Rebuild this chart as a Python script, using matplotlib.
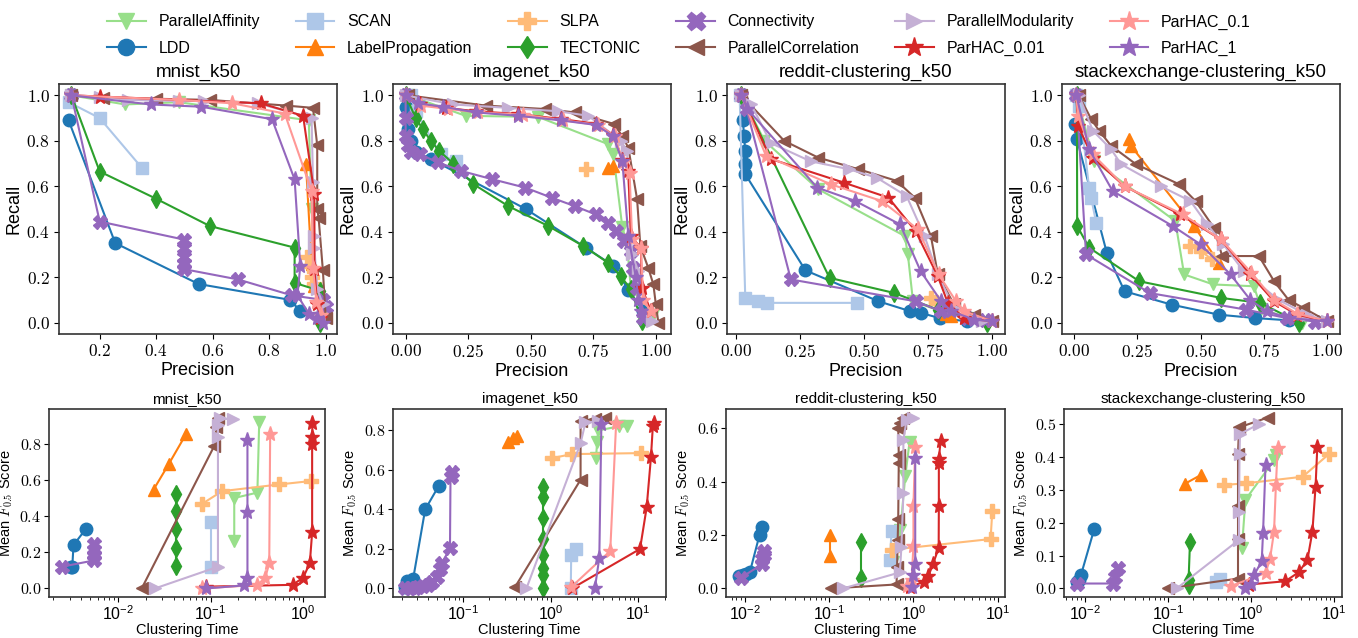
import matplotlib
matplotlib.use("Agg")
import matplotlib.pyplot as plt
from matplotlib.ticker import FuncFormatter, MultipleLocator
from matplotlib.lines import Line2D

plt.rcParams['font.family'] = ['Liberation Sans', 'DejaVu Sans']
plt.rcParams['mathtext.fontset'] = 'cm'

methods = ['ParallelAffinity', 'LDD', 'SCAN', 'LabelPropagation', 'SLPA', 'TECTONIC',
           'Connectivity', 'ParallelCorrelation', 'ParallelModularity',
           'ParHAC_0.01', 'ParHAC_0.1', 'ParHAC_1']
colors = ['#98df8a', '#1f77b4', '#aec7e8', '#ff7f0e', '#ffbb78', '#2ca02c',
          '#9467bd', '#8c564b', '#c5b0d5', '#d62728', '#ff9896', '#9467bd']
markers = ['v', 'o', 's', '^', 'P', 'd', 'X', '<', '>', '*', '*', '*']

datasets = ['mnist_k50', 'imagenet_k50', 'reddit-clustering_k50', 'stackexchange-clustering_k50']

# ---------- Precision / Recall (top row) ----------
mnist_pr = {
    'ParallelAffinity': ([0.10, 0.29, 0.48, 0.94, 0.95, 0.96, 0.98], [1.00, 0.96, 0.97, 0.89, 0.50, 0.22, 0.02]),
    'LDD': ([0.09, 0.255, 0.55, 0.875, 0.91], [0.89, 0.35, 0.17, 0.10, 0.05]),
    'SCAN': ([0.09, 0.20, 0.35], [0.97, 0.90, 0.68]),
    'LabelPropagation': ([0.93, 0.95, 0.96], [0.70, 0.26, 0.16]),
    'SLPA': ([0.935, 0.94, 0.95, 0.96], [0.29, 0.25, 0.20, 0.17]),
    'TECTONIC': ([0.10, 0.20, 0.40, 0.59, 0.89, 0.89, 0.98, 0.98], [1.00, 0.665, 0.545, 0.425, 0.33, 0.175, 0.14, 0.0]),
    'Connectivity': ([0.10, 0.20, 0.50, 0.50, 0.50, 0.50, 0.50, 0.69, 0.88, 0.99, 1.0],
                     [1.0, 0.445, 0.365, 0.33, 0.29, 0.26, 0.235, 0.19, 0.12, 0.10, 0.07]),
    'ParallelCorrelation': ([0.10, 0.21, 0.40, 0.59, 0.86, 0.955, 0.97, 0.97, 0.975, 0.99, 1.0],
                            [1.0, 0.99, 0.985, 0.98, 0.955, 0.945, 0.78, 0.50, 0.46, 0.23, 0.02]),
    'ParallelModularity': ([0.10, 0.20, 0.30, 0.48, 0.57, 0.76, 0.95, 0.955, 0.96, 0.96, 0.97, 0.99],
                           [1.0, 0.995, 0.98, 0.975, 0.975, 0.965, 0.90, 0.62, 0.38, 0.33, 0.15, 0.08]),
    'ParHAC_0.01': ([0.10, 0.20, 0.77, 0.92, 0.96, 0.96, 0.97, 0.98], [1.0, 0.995, 0.965, 0.91, 0.565, 0.235, 0.08, 0.02]),
    'ParHAC_0.1': ([0.10, 0.48, 0.67, 0.855, 0.95, 0.955, 0.967, 0.985], [1.0, 0.98, 0.965, 0.92, 0.58, 0.24, 0.09, 0.035]),
    'ParHAC_1': ([0.10, 0.38, 0.56, 0.81, 0.89, 0.91, 0.90, 0.94, 0.97, 0.99], [1.0, 0.96, 0.95, 0.895, 0.63, 0.25, 0.12, 0.04, 0.02, 0.0]),
}
imagenet_pr = {
    'ParallelAffinity': ([0.01, 0.24, 0.53, 0.81, 0.83, 0.866, 0.885, 0.90, 0.99], [1.0, 0.91, 0.905, 0.785, 0.74, 0.42, 0.344, 0.15, 0.035]),
    'LDD': ([0.0, 0.01, 0.02, 0.04, 0.10, 0.48, 0.72, 0.83, 0.89, 0.95], [0.95, 0.85, 0.80, 0.75, 0.72, 0.50, 0.33, 0.25, 0.145, 0.05]),
    'SCAN': ([0.02, 0.04, 0.14, 0.20], [1.0, 0.93, 0.74, 0.71]),
    'LabelPropagation': ([0.81, 0.83], [0.68, 0.69]),
    'SLPA': ([0.72], [0.675]),
    'TECTONIC': ([0.0, 0.04, 0.07, 0.10, 0.135, 0.19, 0.27, 0.41, 0.57, 0.71, 0.81, 0.86, 0.90, 0.945],
                 [1.0, 0.90, 0.85, 0.80, 0.755, 0.70, 0.61, 0.513, 0.425, 0.337, 0.263, 0.204, 0.146, 0.006]),
    'Connectivity': ([0.0, 0.0, 0.0, 0.01, 0.02, 0.057, 0.13, 0.22, 0.346, 0.478, 0.583, 0.675, 0.76, 0.807, 0.84, 0.872, 0.90, 0.91, 0.925, 0.95],
                     [1.0, 0.9, 0.82, 0.78, 0.75, 0.74, 0.705, 0.668, 0.631, 0.594, 0.55, 0.513, 0.476, 0.44, 0.403, 0.359, 0.315, 0.24, 0.153, 0.02]),
    'ParallelCorrelation': ([0.01, 0.32, 0.556, 0.675, 0.833, 0.866, 0.89, 0.925, 0.938, 0.97, 0.99, 1.0, 1.01],
                            [1.0, 0.955, 0.94, 0.925, 0.874, 0.82, 0.77, 0.543, 0.337, 0.24, 0.168, 0.08, 0.0]),
    'ParallelModularity': ([0.0, 0.19, 0.41, 0.61, 0.73, 0.86, 0.885, 0.905, 0.93, 0.985],
                           [1.0, 0.96, 0.945, 0.93, 0.91, 0.80, 0.755, 0.30, 0.226, 0.006]),
    'ParHAC_0.01': ([0.0, 0.057, 0.16, 0.28, 0.45, 0.62, 0.76, 0.83, 0.866, 0.89, 0.90, 0.94, 0.944, 0.98],
                    [1.0, 0.96, 0.945, 0.93, 0.918, 0.896, 0.875, 0.825, 0.714, 0.668, 0.38, 0.33, 0.153, 0.05]),
    'ParHAC_0.1': ([0.0, 0.06, 0.17, 0.29, 0.47, 0.63, 0.77, 0.835, 0.87, 0.895, 0.905, 0.94, 0.95, 0.98],
                   [1.0, 0.955, 0.94, 0.925, 0.915, 0.89, 0.87, 0.82, 0.705, 0.66, 0.37, 0.33, 0.10, 0.05]),
    'ParHAC_1': ([0.0, 0.05, 0.15, 0.28, 0.45, 0.62, 0.76, 0.83, 0.866, 0.89, 0.92, 0.93, 0.94],
                 [1.0, 0.965, 0.95, 0.925, 0.91, 0.89, 0.87, 0.82, 0.71, 0.38, 0.20, 0.10, 0.05]),
}
reddit_pr = {
    'ParallelAffinity': ([0.02, 0.11, 0.32, 0.658, 0.67, 0.69, 0.80, 0.90, 0.98], [1.0, 0.80, 0.587, 0.381, 0.30, 0.094, 0.05, 0.02, 0.0]),
    'LDD': ([0.026, 0.03, 0.035, 0.032, 0.035, 0.27, 0.555, 0.68, 0.72, 0.794, 0.90],
            [0.89, 0.82, 0.756, 0.697, 0.653, 0.23, 0.094, 0.05, 0.043, 0.02, 0.006]),
    'SCAN': ([0.013, 0.035, 0.084, 0.12, 0.47], [1.0, 0.109, 0.094, 0.087, 0.087]),
    'LabelPropagation': ([0.82, 0.84], [0.04, 0.03]),
    'SLPA': ([0.76, 0.78], [0.109, 0.09]),
    'TECTONIC': ([0.02, 0.364, 0.615, 0.787, 0.98], [1.0, 0.197, 0.131, 0.057, 0.0]),
    'Connectivity': ([0.02, 0.04, 0.213, 0.70, 0.80, 0.90, 0.97], [1.0, 0.94, 0.19, 0.094, 0.05, 0.02, 0.01]),
    'ParallelCorrelation': ([0.02, 0.187, 0.32, 0.477, 0.626, 0.697, 0.76, 0.787, 0.85, 0.93, 1.0],
                            [1.0, 0.80, 0.726, 0.675, 0.624, 0.55, 0.381, 0.212, 0.08, 0.035, 0.006]),
    'ParallelModularity': ([0.02, 0.058, 0.135, 0.29, 0.44, 0.548, 0.665, 0.735, 0.787, 0.85, 0.96],
                           [1.0, 0.96, 0.79, 0.71, 0.675, 0.638, 0.557, 0.381, 0.212, 0.065, 0.006]),
    'ParHAC_0.01': ([0.02, 0.135, 0.42, 0.594, 0.70, 0.787, 0.826, 0.89, 1.0], [1.0, 0.72, 0.616, 0.55, 0.403, 0.204, 0.087, 0.02, 0.006]),
    'ParHAC_0.1': ([0.02, 0.116, 0.368, 0.568, 0.71, 0.79, 0.858, 0.89, 1.0], [1.0, 0.734, 0.609, 0.535, 0.41, 0.212, 0.094, 0.05, 0.006]),
    'ParHAC_1': ([0.02, 0.043, 0.316, 0.465, 0.64, 0.72, 0.80, 0.84, 0.93, 1.0], [1.0, 0.94, 0.594, 0.535, 0.432, 0.226, 0.094, 0.05, 0.013, 0.006]),
}
stack_pr = {
    'ParallelAffinity': ([0.01, 0.08, 0.40, 0.435, 0.55, 0.71, 0.74, 0.90], [1.0, 0.71, 0.447, 0.212, 0.168, 0.16, 0.06, 0.0]),
    'LDD': ([0.003, 0.012, 0.13, 0.20, 0.386, 0.572, 0.716, 0.85], [0.874, 0.807, 0.307, 0.138, 0.079, 0.035, 0.02, 0.01]),
    'SCAN': ([0.01, 0.022, 0.06, 0.068, 0.088], [1.0, 0.954, 0.594, 0.55, 0.44]),
    'LabelPropagation': ([0.218, 0.225, 0.474, 0.572], [0.807, 0.778, 0.425, 0.263]),
    'SLPA': ([0.46, 0.50, 0.546], [0.337, 0.315, 0.278]),
    'TECTONIC': ([0.012, 0.013, 0.06, 0.258, 0.579, 0.735, 0.89], [1.0, 0.425, 0.33, 0.182, 0.109, 0.087, 0.0]),
    'Connectivity': ([0.01, 0.048, 0.30, 0.68, 0.84, 0.95], [1.0, 0.30, 0.13, 0.057, 0.02, 0.005]),
    'ParallelCorrelation': ([0.02, 0.068, 0.10, 0.147, 0.245, 0.415, 0.48, 0.552, 0.585, 0.73, 0.79, 0.847, 0.905, 1.0],
                            [1.0, 0.896, 0.844, 0.778, 0.697, 0.609, 0.535, 0.418, 0.293, 0.293, 0.182, 0.10, 0.065, 0.006]),
    'ParallelModularity': ([0.02, 0.075, 0.147, 0.186, 0.343, 0.46, 0.526, 0.59, 0.67, 0.807, 0.92, 1.0],
                           [1.0, 0.844, 0.763, 0.697, 0.60, 0.535, 0.432, 0.344, 0.226, 0.10, 0.035, 0.006]),
    'ParHAC_0.01': ([0.01, 0.016, 0.075, 0.20, 0.42, 0.58, 0.696, 0.79, 0.88, 1.0], [1.0, 0.866, 0.726, 0.60, 0.476, 0.366, 0.212, 0.094, 0.035, 0.006]),
    'ParHAC_0.1': ([0.01, 0.016, 0.075, 0.20, 0.43, 0.58, 0.70, 0.79, 0.88, 1.0], [1.0, 0.91, 0.74, 0.60, 0.476, 0.366, 0.22, 0.10, 0.04, 0.006]),
    'ParHAC_1': ([0.01, 0.06, 0.153, 0.39, 0.50, 0.618, 0.696, 0.76, 0.85, 1.0], [1.0, 0.763, 0.579, 0.425, 0.344, 0.212, 0.10, 0.05, 0.02, 0.006]),
}

# ---------- Clustering time / mean F0.5 (bottom row) ----------
mnist_tf = {
    'ParallelAffinity': ([0.18, 0.18, 0.32, 0.335], [0.26, 0.50, 0.53, 0.92]),
    'LDD': ([0.0031, 0.0032, 0.0033, 0.0045], [0.12, 0.12, 0.24, 0.33]),
    'SCAN': ([0.1, 0.1], [0.12, 0.365]),
    'LabelPropagation': ([0.0242, 0.0355, 0.0545], [0.547, 0.69, 0.855]),
    'SLPA': ([0.081, 0.133, 0.55, 1.21], [0.468, 0.538, 0.575, 0.594]),
    'TECTONIC': ([0.0425, 0.0425, 0.0425, 0.0425, 0.0425], [0.124, 0.221, 0.326, 0.428, 0.52]),
    'Connectivity': ([0.00245, 0.0055, 0.0055, 0.0055, 0.0055], [0.12, 0.155, 0.185, 0.215, 0.245]),
    'ParallelCorrelation': ([0.018, 0.11, 0.115, 0.12], [0.0, 0.79, 0.89, 0.945]),
    'ParallelModularity': ([0.025, 0.12, 0.12, 0.12, 0.125, 0.175], [0.0, 0.12, 0.84, 0.905, 0.94, 0.935]),
    'ParHAC_0.01': ([0.09, 0.77, 1.0, 1.18, 1.25, 1.25, 1.25, 1.26], [0.01, 0.02, 0.06, 0.14, 0.31, 0.80, 0.835, 0.915]),
    'ParHAC_0.1': ([0.08, 0.32, 0.39, 0.43, 0.44], [0.0, 0.02, 0.06, 0.14, 0.855]),
    'ParHAC_1': ([0.09, 0.23, 0.25, 0.25, 0.25], [0.0, 0.017, 0.06, 0.42, 0.82]),
}
imagenet_tf = {
    'ParallelAffinity': ([3.3, 3.4, 3.5, 6.0, 7.5], [0.66, 0.74, 0.80, 0.82, 0.82]),
    'LDD': ([0.022, 0.023, 0.027, 0.037, 0.053], [0.005, 0.04, 0.05, 0.40, 0.52]),
    'SCAN': ([1.7, 1.72, 1.95], [0.0, 0.17, 0.20]),
    'LabelPropagation': ([0.33, 0.37, 0.41], [0.74, 0.76, 0.77]),
    'SLPA': ([1.05, 1.75, 10.7], [0.66, 0.68, 0.685]),
    'TECTONIC': ([0.82, 0.82, 0.82, 0.82, 0.82, 0.82, 0.82, 0.82], [0.0, 0.07, 0.105, 0.168, 0.25, 0.358, 0.465, 0.515]),
    'Connectivity': ([0.022, 0.025, 0.028, 0.031, 0.035, 0.04, 0.044, 0.05, 0.055, 0.058, 0.071, 0.072, 0.075],
                     [0.0, 0.0, 0.0, 0.005, 0.01, 0.02, 0.035, 0.06, 0.10, 0.13, 0.205, 0.565, 0.59]),
    'ParallelCorrelation': ([0.39, 2.2, 2.2, 3.2, 4.2], [0.005, 0.55, 0.845, 0.86, 0.865]),
    'ParallelModularity': ([0.53, 2.2, 2.5, 3.5], [0.0, 0.735, 0.84, 0.845]),
    'ParHAC_0.01': ([1.75, 10.5, 12.5, 14.0, 14.7, 15.0], [0.0, 0.2, 0.41, 0.665, 0.82, 0.835]),
    'ParHAC_0.1': ([1.7, 4.8, 5.6], [0.005, 0.19, 0.835]),
    'ParHAC_1': ([3.2, 3.6, 3.8], [0.0, 0.155, 0.83]),
}
reddit_tf = {
    'ParallelAffinity': ([0.58, 0.70, 0.80, 0.90], [0.10, 0.22, 0.42, 0.55]),
    'LDD': ([0.0085, 0.0095, 0.0105, 0.0115, 0.015, 0.016], [0.045, 0.05, 0.055, 0.06, 0.20, 0.23]),
    'SCAN': ([0.526, 0.55], [0.108, 0.214]),
    'LabelPropagation': ([0.104, 0.104], [0.12, 0.20]),
    'SLPA': ([0.55, 8.2, 8.6], [0.145, 0.185, 0.29]),
    'TECTONIC': ([0.24, 0.24], [0.04, 0.175]),
    'Connectivity': ([0.009, 0.016, 0.016, 0.017, 0.017], [0.04, 0.09, 0.11, 0.125, 0.14]),
    'ParallelCorrelation': ([0.105, 0.63, 0.64, 0.65, 0.66, 0.67, 0.67, 0.66, 0.70, 0.75],
                            [0.0, 0.015, 0.08, 0.18, 0.26, 0.47, 0.50, 0.60, 0.62, 0.64]),
    'ParallelModularity': ([0.146, 0.69, 0.72, 0.76, 0.76, 0.83, 1.0], [0.0, 0.06, 0.155, 0.357, 0.557, 0.63, 0.64]),
    'ParHAC_0.01': ([0.9, 1.32, 1.5, 1.7, 1.99, 2.0, 2.0, 2.0, 2.1], [0.005, 0.025, 0.046, 0.09, 0.152, 0.308, 0.47, 0.486, 0.553]),
    'ParHAC_0.1': ([0.83, 0.95, 1.0, 1.0, 1.05], [0.01, 0.03, 0.16, 0.31, 0.53]),
    'ParHAC_1': ([0.95, 1.0, 1.05, 1.05], [0.005, 0.05, 0.09, 0.49]),
}
stack_tf = {
    'ParallelAffinity': ([0.78, 0.86, 1.9, 1.98], [0.123, 0.27, 0.39, 0.405]),
    'LDD': ([0.008, 0.0085, 0.009, 0.013], [0.02, 0.025, 0.04, 0.18]),
    'SCAN': ([0.38, 0.42], [0.02, 0.03]),
    'LabelPropagation': ([0.162, 0.253], [0.319, 0.346]),
    'SLPA': ([0.48, 0.88, 4.2, 8.8], [0.315, 0.32, 0.34, 0.41]),
    'TECTONIC': ([0.178, 0.178, 0.185], [0.012, 0.027, 0.141]),
    'Connectivity': ([0.008, 0.022, 0.023, 0.025], [0.015, 0.015, 0.035, 0.062]),
    'ParallelCorrelation': ([0.1, 0.7, 0.7, 0.7, 0.7, 0.72, 1.6], [0.0, 0.03, 0.15, 0.25, 0.41, 0.49, 0.52]),
    'ParallelModularity': ([0.128, 0.72, 0.72, 0.73, 0.74, 1.25], [0.0, 0.148, 0.233, 0.41, 0.47, 0.50]),
    'ParHAC_0.01': ([0.95, 2.6, 3.8, 4.8, 5.5, 6.0, 6.3], [0.012, 0.022, 0.05, 0.088, 0.173, 0.309, 0.43]),
    'ParHAC_0.1': ([0.57, 1.5, 1.7, 1.9, 2.0, 2.1], [0.007, 0.047, 0.09, 0.173, 0.314, 0.427]),
    'ParHAC_1': ([0.86, 1.0, 1.1, 1.35, 1.4, 1.5], [0.002, 0.015, 0.042, 0.083, 0.168, 0.375]),
}

pr_data = [mnist_pr, imagenet_pr, reddit_pr, stack_pr]
tf_data = [mnist_tf, imagenet_tf, reddit_tf, stack_tf]
tf_ystep = [0.2, 0.2, 0.2, 0.1]

W, H = 1358, 638
fig = plt.figure(figsize=(W / 100, H / 100), dpi=100)

top_left = [59, 393, 727, 1062]
top_w = 278
bot_left = [49, 393, 726, 1064]
bot_w = [276, 273, 279, 278]

msizes = {'v': 9, 'o': 9, 's': 9, '^': 9, 'P': 10, 'd': 9, 'X': 10, '<': 9, '>': 9, '*': 11}
spine_color = '#333333'


def style_axes(ax, tick_size, pad):
    for s in ax.spines.values():
        s.set_color(spine_color)
        s.set_linewidth(1.2)
    ax.tick_params(labelsize=tick_size, colors='black', pad=pad)


fmt1 = FuncFormatter(lambda v, p: r'$%.1f$' % v)
fmt2 = FuncFormatter(lambda v, p: r'$%.2f$' % v)

for i, name in enumerate(datasets):
    ax = fig.add_axes([top_left[i] / W, (H - 334) / H, top_w / W, 250 / H])
    d = pr_data[i]
    for m, c, mk in zip(methods, colors, markers):
        x, y = d[m]
        ax.plot(x, y, color=c, marker=mk, markersize=msizes[mk], linewidth=1.5)
    ax.set_title(name, fontsize=13.5, pad=5)
    ax.set_xlabel('Precision', fontsize=13, labelpad=2)
    ax.set_ylabel('Recall', fontsize=13, labelpad=3)
    if i == 0:
        ax.set_xlim(0.056, 1.04)
        ax.xaxis.set_major_locator(MultipleLocator(0.2))
        ax.xaxis.set_major_formatter(fmt1)
    else:
        ax.xaxis.set_major_locator(MultipleLocator(0.25))
        ax.xaxis.set_major_formatter(fmt2)
    ax.set_ylim(-0.05, 1.05)
    ax.yaxis.set_major_locator(MultipleLocator(0.2))
    ax.yaxis.set_major_formatter(fmt1)
    style_axes(ax, 12.5, 3)

for i, name in enumerate(datasets):
    ax = fig.add_axes([bot_left[i] / W, (H - 597) / H, bot_w[i] / W, 188 / H])
    d = tf_data[i]
    for m, c, mk in zip(methods, colors, markers):
        x, y = d[m]
        ax.plot(x, y, color=c, marker=mk, markersize=msizes[mk], linewidth=1.5)
    ax.set_xscale('log')
    ax.set_title(name, fontsize=11, pad=4)
    ax.set_xlabel('Clustering Time', fontsize=10.5, labelpad=0)
    ax.set_ylabel(r'Mean $F_{0.5}$ Score', fontsize=10.5, labelpad=3)
    ax.yaxis.set_major_locator(MultipleLocator(tf_ystep[i]))
    ax.yaxis.set_major_formatter(fmt1)
    style_axes(ax, 11.5, 2)

handles = [Line2D([], [], color=c, marker=mk, markersize=msizes[mk] * 1.3, linewidth=1.5)
           for c, mk in zip(colors, markers)]
fig.legend(handles, methods, loc='upper center', bbox_to_anchor=(0.5, 1.0), ncol=6,
           frameon=False, fontsize=11.5, columnspacing=2.25, handlelength=2.4,
           handletextpad=0.8, labelspacing=0.7)

fig.savefig('out.png', dpi=100)
